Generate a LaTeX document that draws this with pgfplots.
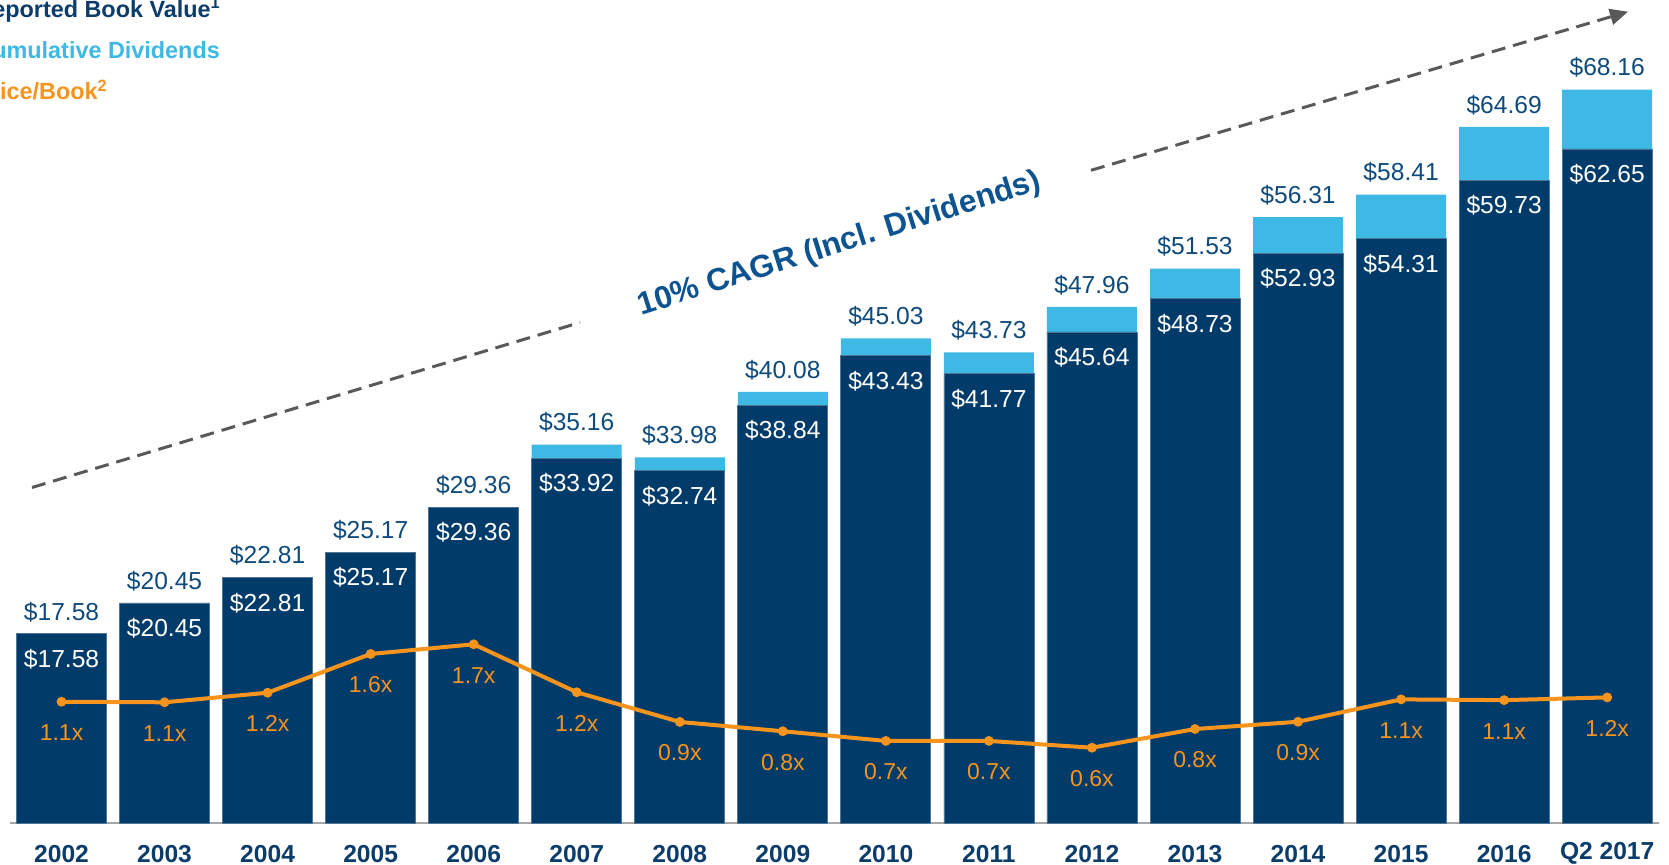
\documentclass[border=0pt]{standalone}
\usepackage{fontspec}
\setmainfont{Liberation Sans}
\usepackage{pgfplots}
\usepackage{pgfplotstable}
\pgfplotsset{compat=1.18}
\usetikzlibrary{arrows.meta}

\definecolor{barBlue}{HTML}{003B69}
\definecolor{barEdge}{HTML}{4F7596}
\definecolor{divBlue}{HTML}{3EB8E4}
\definecolor{pbOrange}{HTML}{F7941D}
\definecolor{labBlue}{HTML}{0E4A7C}
\definecolor{tickBlue}{HTML}{0B3C6A}
\definecolor{cagrBlue}{HTML}{0D5390}
\definecolor{arrGray}{HTML}{595959}
\definecolor{axisGray}{HTML}{A6A6A6}

% book value, cumulative dividends, total, price/book
\pgfplotstableread{
x bv div tot pb pbl
0 17.58 0.00 17.58 1.089 1.1x
1 20.45 0.00 20.45 1.083 1.1x
2 22.81 0.00 22.81 1.185 1.2x
3 25.17 0.00 25.17 1.597 1.6x
4 29.36 0.00 29.36 1.700 1.7x
5 33.92 1.24 35.16 1.190 1.2x
6 32.74 1.24 33.98 0.874 0.9x
7 38.84 1.24 40.08 0.775 0.8x
8 43.43 1.60 45.03 0.672 0.7x
9 41.77 1.96 43.73 0.672 0.7x
10 45.64 2.32 47.96 0.600 0.6x
11 48.73 2.80 51.53 0.799 0.8x
12 52.93 3.38 56.31 0.876 0.9x
13 54.31 4.10 58.41 1.114 1.1x
14 59.73 4.96 64.69 1.106 1.1x
15 62.65 5.51 68.16 1.135 1.2x
}\data

\newcommand\valfont{\fontsize{12.3}{14}\selectfont}
\newcommand\pbfont{\fontsize{11.5}{14}\selectfont}
\newcommand\legfont{\bfseries\fontsize{11.7}{14}\selectfont}

\pgfplotsset{base/.style={scale only axis, width=824.35pt, height=411.5pt,
    at={(5pt,-411.5pt)}, anchor=south west, xmin=-0.5, xmax=15.5, clip=false}}

\begin{document}
\begin{tikzpicture}
\useasboundingbox (0pt,0pt) rectangle (834.5pt,-432.5pt);

\begin{axis}[base, ymin=0, ymax=76.49, ybar stacked, bar width=45pt,
    axis x line*=bottom, axis y line=none,
    x axis line style={-, draw=axisGray, line width=1pt},
    xtick={0,...,15},
    xticklabels={2002,2003,2004,2005,2006,2007,2008,2009,2010,2011,2012,2013,2014,2015,2016,Q2 2017},
    major tick length=0pt, ytick=\empty,
    xticklabel style={anchor=center, yshift=-15.35pt, font=\bfseries\valfont, text=tickBlue}]
\addplot[fill=barBlue, draw=barEdge, line width=0.4pt] table[x=x, y=bv]{\data};
\addplot[fill=divBlue, draw=none] table[x=x, y=div]{\data};
\end{axis}

% value labels: book value inside the bar, total above it
\begin{axis}[base, ymin=0, ymax=76.49, hide axis]
\addplot[draw=none, mark=none,
    nodes near coords={\$\pgfplotspointmeta}, point meta=explicit symbolic,
    nodes near coords style={anchor=center, yshift=-12.6pt, text=white, font=\valfont}]
    table[x=x, y=bv, meta=bv]{\data};
\addplot[draw=none, mark=none,
    nodes near coords={\$\pgfplotspointmeta}, point meta=explicit symbolic,
    nodes near coords style={anchor=center, yshift=11pt, text=labBlue, font=\valfont}]
    table[x=x, y=tot, meta=tot]{\data};
\end{axis}

\begin{axis}[base, ymin=-0.201, ymax=8.554, hide axis]
\addplot[color=pbOrange, line width=2pt, mark=*, mark size=2.2pt,
    mark options={line width=0.5pt, fill=pbOrange},
    nodes near coords, point meta=explicit symbolic,
    nodes near coords style={anchor=center, yshift=-15.5pt, text=pbOrange, font=\pbfont}]
    table[x=x, y=pb, meta=pbl]{\data};
\end{axis}

% trend arrow
\draw[arrGray, line width=1.5pt, dash pattern=on 7pt off 4pt] (16pt,-243.75pt) -- (290pt,-161.25pt);
\draw[arrGray, line width=1.5pt, dash pattern=on 7pt off 4pt, -{Triangle[length=9pt,width=8pt]}] (545.5pt,-85.15pt) -- (814pt,-5.85pt);
\node[rotate=17.5, font=\bfseries\fontsize{15.8}{18}\selectfont, text=cagrBlue] at (419.8pt,-122.2pt) {10\% CAGR (Incl. Dividends)};

% legend (cut off at the left edge as in the original)
\begin{scope}
\clip (0pt,0pt) rectangle (834.5pt,-432.5pt);
\node[anchor=base west, inner sep=0, font=\legfont, text=tickBlue] at (-12.5pt,-8.6pt) {Reported Book Value\textsuperscript{1}};
\node[anchor=base west, inner sep=0, font=\legfont, text=divBlue] at (-12.5pt,-29.1pt) {Cumulative Dividends};
\node[anchor=base west, inner sep=0, font=\legfont, text=pbOrange] at (-12.5pt,-49.9pt) {Price/Book\textsuperscript{2}};
\end{scope}
\end{tikzpicture}
\end{document}
